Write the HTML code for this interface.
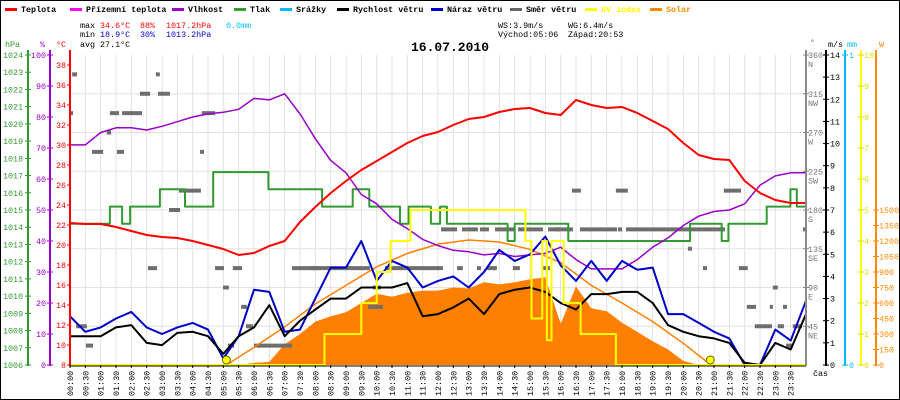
<!DOCTYPE html>
<html><head><meta charset="utf-8">
<style>
html,body{margin:0;padding:0;background:#fff;}
svg{display:block;font-family:"Liberation Mono",monospace;}
</style></head>
<body>
<svg id="chart" width="900" height="400" viewBox="0 0 900 400" xmlns="http://www.w3.org/2000/svg">
<rect x="0.5" y="0.5" width="899" height="399" fill="#fff" stroke="#000"/>
<g id="legend" font-size="8.4" font-weight="bold"></g>
<g font-size="8.4">
<text x="80" y="28" fill="#000">max</text><text x="100" y="28" fill="#f00">34.6°C</text><text x="140" y="28" fill="#f00">88%</text><text x="166" y="28" fill="#f00">1017.2hPa</text><text x="226" y="28" fill="#00bfff">0.0mm</text>
<text x="80" y="37" fill="#000">min</text><text x="100" y="37" fill="#00c">18.9°C</text><text x="140" y="37" fill="#00c">30%</text><text x="166" y="37" fill="#00c">1013.2hPa</text>
<text x="80" y="47" fill="#000">avg</text><text x="100" y="47" fill="#000">27.1°C</text>
<text x="498" y="28" fill="#000">WS:3.9m/s</text><text x="568" y="28" fill="#000">WG:6.4m/s</text>
<text x="498" y="37" fill="#000">Východ:05:06</text><text x="568" y="37" fill="#000">Západ:20:53</text>
</g>
<text x="450" y="51" text-anchor="middle" font-size="13" font-weight="bold">16.07.2010</text>
<g id="grid"></g>
<g id="marks"></g>
<g id="axes"></g>
</svg>
<script>
const times = [0,0.5,1,1.5,2,2.5,3,3.5,4,4.5,5,5.5,6,6.5,7,7.5,8,8.5,9,9.5,10,10.5,11,11.5,12,12.5,13,13.5,14,14.5,15,15.5,16,16.5,17,17.5,18,18.5,19,19.5,20,20.5,21,21.5,22,22.5,23,23.5,24];
const temperature = [22.2,22.1,22.1,21.8,21.4,21.0,20.8,20.7,20.4,20.0,19.6,19.0,19.2,19.9,20.4,22.3,23.8,25.2,26.4,27.5,28.4,29.3,30.2,30.9,31.3,32.0,32.6,32.8,33.3,33.6,33.7,33.2,33.0,34.5,34.0,33.7,33.8,33.2,32.4,31.6,30.2,29.0,28.6,28.5,26.4,25.2,24.5,24.2,24.2];
const humidity = [71,71,75,76.5,76.5,75.8,77,78.5,80,81,81.5,82.5,86,85.5,87.5,81,73,66,62,55,52,47,44,40.5,38.5,37,36.5,35.5,36,35,35.5,36,38,34,31,31,31,34,38,41,45,48,49.5,50,52,58,61,62,62];
const windSpeed = [1.3,1.3,1.3,1.7,1.8,1.0,0.9,1.45,1.5,1.3,0.5,1.3,1.7,2.7,1.3,2.0,2.5,3.0,3.0,3.5,3.5,3.5,3.7,2.2,2.3,2.6,3.0,2.3,3.2,3.4,3.5,3.3,2.8,2.5,3.2,3.2,3.3,3.3,2.8,1.8,1.5,1.3,1.2,1.0,0.1,0,1.0,0.7,2.3];
const windGust = [2.2,1.5,1.7,2.1,2.4,1.7,1.4,1.7,1.9,1.6,0.3,1.3,3.4,3.3,1.5,1.6,3.0,4.4,4.4,5.6,3.8,4.7,4.4,3.5,3.8,4.0,3.5,4.2,5.2,4.7,5.0,5.8,4.5,3.8,4.7,3.8,4.7,4.3,4.4,2.3,2.3,1.9,1.5,1.2,0,0,1.6,1.1,2.9];
const solar = [0,0,0,0,0,0,0,0,0,0,0,0,20,30,200,300,420,470,510,600,690,660,700,720,720,750,740,800,780,800,830,850,400,760,550,520,410,320,230,150,40,0,0,0,0,0,0,0,0];
const clearSkyTimes = [5.1,6,7,8,9,10,11,12,13,14,15,16,17,18,19,20,20.9];
const clearSkyValues = [0,170,370,590,770,950,1080,1170,1210,1190,1120,990,770,600,420,210,0];
const pressTimes = [0,1.3,1.7,1.96,2.93,3.75,4.67,6.47,8.22,9.22,9.76,10.76,11.04,11.77,12.07,12.29,14.27,14.5,16.25,20.22,21.25,21.47,22.72,23.49,23.7];
const pressValues = [1014.2,1015.2,1014.2,1015.2,1016.2,1015.2,1017.2,1016.2,1015.2,1016.2,1015.2,1014.2,1015.2,1014.2,1015.2,1014.2,1013.2,1014.2,1013.2,1014.2,1013.2,1014.2,1015.2,1016.2,1015.2];
const uvTimes = [0,8.3,9.5,10,10.45,11.1,14.85,15.05,15.4,15.55,15.7,16.1,16.65,17.8];
const uvValues = [0,1,2,3,4,5,4,1.5,4,0.8,4,2,1,0];
const dirStart = [0.07,2.8,2.28,2.87,0,1.3,1.7,4.3,1.2,0.72,1.53,4.24,3.55,3.23,2.54,4.73,5.31,7.24,4.99,5.58,0.2,5.74,0.52,5.15,6.0,7.83,10.27,12.62,13.27,13.6,14.44,15.42,12.1,12.78,13.37,13.86,14.61,15.59,15.81,16.63,17.87,18.13,23.9,9.88,9.72,16.37,17.8,21.32,20.15,20.64,21.81,22.92,22.07,22.82,23.25,22.33,23.08,23.57,23.35];
const dirEnd = [0.23,2.93,2.61,3.26,0.1,1.6,2.35,4.73,1.34,1.08,1.76,4.37,4.27,3.59,2.84,5.02,5.61,8.15,5.18,5.77,0.55,5.97,0.75,5.35,7.24,9.78,12.16,12.81,13.4,13.92,14.67,15.65,12.62,13.3,13.66,14.51,15.42,15.98,16.4,17.84,18.0,21.36,23.97,10.14,10.2,16.66,18.19,21.88,20.28,20.77,22.1,23.08,22.37,22.92,23.38,22.89,23.28,23.87,23.57];
const dirDeg = [337.5,337.5,315,315,292.5,292.5,292.5,292.5,270,247.5,247.5,247.5,202.5,180,112.5,112.5,112.5,112.5,90,67.5,45,45,22.5,22.5,22.5,112.5,112.5,112.5,112.5,112.5,112.5,112.5,157.5,157.5,157.5,157.5,157.5,157.5,157.5,157.5,157.5,157.5,157.5,90,67.5,202.5,202.5,202.5,135,112.5,112.5,90,67.5,67.5,67.5,45,45,45,22.5];
const sunEvents = [5.1,20.88];
const timeLabels = ["00:00","00:30","01:00","01:30","02:00","02:30","03:00","03:30","04:00","04:30","05:00","05:30","06:00","06:30","07:00","07:30","08:00","08:30","09:00","09:30","10:00","10:30","11:00","11:30","12:00","12:30","13:00","13:30","14:00","14:30","15:00","15:30","16:00","16:30","17:00","17:30","18:00","18:30","19:00","19:30","20:00","20:30","21:00","21:30","22:00","22:30","23:00","23:30"];
const pressTicks = [1006,1007,1008,1009,1010,1011,1012,1013,1014,1015,1016,1017,1018,1019,1020,1021,1022,1023,1024];
const humTicks = [0,10,20,30,40,50,60,70,80,90,100];
const tempTicks = [8,10,12,14,16,18,20,22,24,26,28,30,32,34,36,38];
const dirTicks = [45,90,135,180,225,270,315,360];
const dirNames = ["NE","E","SE","S","SW","W","NW","N"];
const windTicks = [0,1,2,3,4,5,6,7,8,9,10,11,12,13,14];
const uvTicks = [0,1,2,3,4,5,6,7,8,9,10];
const solarTicks = [0,150,300,450,600,750,900,1050,1200,1350,1500];
const legendNames = ["Teplota","Přízemní teplota","Vlhkost","Tlak","Srážky","Rychlost větru","Náraz větru","Směr větru","UV index","Solar"];
const legendColors = ["#f00","#f0f","#90c","#393","#0bf","#000","#00c","#666","#ff0","#f80"];
const legendX = [5,70,172,234,280,337,431,510,585,650];

const NS="http://www.w3.org/2000/svg";
const X0=70,X1=806,Y0=365,YT=55;
const xs=t=>X0+t*(X1-X0)/24;
const yT=v=>Y0-(v-8)*10;
const yH=v=>Y0-v*3.1;
const yP=v=>Y0-(v-1006)*(310/18);
const yW=v=>Y0-v*(310/14);
const yS=v=>Y0-v*(155/1500);
const yU=v=>Y0-v*31;
const yD=v=>Y0-v*(310/360);
function mk(tag,attrs,parent){const e=document.createElementNS(NS,tag);for(const k in attrs)e.setAttribute(k,attrs[k]);parent.appendChild(e);return e;}
const svg=document.getElementById('chart');
const grid=document.getElementById('grid'),marks=document.getElementById('marks'),axes=document.getElementById('axes'),legend=document.getElementById('legend');

// legend
legendNames.forEach((n,i)=>{
  const r=mk('rect',{x:legendX[i],y:8,width:12,height:3,fill:legendColors[i]},legend);
  
  
  const t=mk('text',{x:legendX[i]+16,y:12,fill:(i>=8?legendColors[i]:'#000')},legend);
  t.textContent=n;
  
  
});

// grid
for(let i=1;i<48;i++){const l=mk('line',{x1:xs(i*0.5),x2:xs(i*0.5),y1:YT,y2:Y0,stroke:'#e6e0e0'},grid);}
for(let j=1;j<8;j++){const y=Y0-j*310/8;mk('line',{x1:X0,x2:X1,y1:y,y2:y,stroke:'#e6e0e0'},grid);}

function poly(xsArr,ysArr,color,w,name){
  const pts=xsArr.map((x,i)=>x.toFixed(1)+','+ysArr[i].toFixed(1)).join(' ');
  const p=mk('polyline',{points:pts,fill:'none',stroke:color,'stroke-width':w,'stroke-linejoin':'round'},marks);
  
  
  return p;
}
function stepPts(tArr,vArr,yf){const X=[],Y=[];tArr.forEach((t,i)=>{if(i>0){X.push(xs(t));Y.push(yf(vArr[i-1]));}X.push(xs(t));Y.push(yf(vArr[i]));});X.push(xs(24));Y.push(yf(vArr[vArr.length-1]));return [X,Y];}

// solar fill
{const pts=[xs(0)+','+Y0].concat(times.map((t,i)=>xs(t).toFixed(1)+','+yS(solar[i]).toFixed(1))).concat([xs(24)+','+Y0]).join(' ');
const p=mk('polygon',{points:pts,fill:'#ff8000'},marks);

}
// wind direction
dirDeg.forEach((d,i)=>{
  const r=mk('rect',{x:xs(dirStart[i]),y:yD(d)-2,width:Math.max(3,xs(dirEnd[i])-xs(dirStart[i])),height:4,fill:'#6e6e6e'},marks);
  
  
});
poly(clearSkyTimes.map(xs),clearSkyValues.map(yS),'#ff8000',1.5,'clear-sky-solar-line');
{const [X,Y]=stepPts(pressTimes,pressValues,yP);poly(X,Y,'#393',2,'pressure-line');}
poly(times.map(xs),humidity.map(yH),'#90c',1.5,'humidity-line');
poly(times.map(xs),temperature.map(yT),'#f00',2,'temperature-line');
poly(times.map(xs),windGust.map(yW),'#00c',2,'wind-gust-line');
poly(times.map(xs),windSpeed.map(yW),'#000',2,'wind-speed-line');
{const [X,Y]=stepPts(uvTimes,uvValues,yU);poly(X,Y,'#ff0',2,'uv-index-line');}
sunEvents.forEach((t,i)=>{
  const c=mk('circle',{cx:xs(t),cy:Y0-5,r:4,fill:'#ff0',stroke:'#660','stroke-width':1},marks);
  
  
});

// axes
function vline(x,color,name){const l=mk('line',{x1:x,x2:x,y1:50,y2:Y0+1,stroke:color,'stroke-width':2},axes);}
function label(x,y,txt,color,anchor,name){const t=mk('text',{x:x,y:y,fill:color,'font-size':8.4,'text-anchor':anchor||'start'},axes);t.textContent=txt;return t;}
function tick(x1,x2,y,color){mk('line',{x1:x1,x2:x2,y1:y,y2:y,stroke:color},axes);}
vline(28,'#393','pressure-axis');vline(50,'#90c','humidity-axis');vline(70,'#f00','temperature-axis');
label(5,47,'hPa','#393','start','pressure-axis-title');label(40,47,'%','#90c','start','humidity-axis-title');label(56,47,'°C','#f00','start','temperature-axis-title');
pressTicks.forEach(v=>{tick(25,31,yP(v),'#393');label(3,yP(v)+3,String(v),'#393','start','pressure-tick-label');});
humTicks.forEach(v=>{tick(47,53,yH(v),'#90c');label(46,yH(v)+3,String(v),'#90c','end','humidity-tick-label');});
tempTicks.forEach(v=>{tick(67,70,yT(v),'#f00');label(66,yT(v)+3,String(v),'#f00','end','temperature-tick-label');});
// x axis
{const l=mk('line',{x1:X0,x2:X1,y1:Y0+1,y2:Y0+1,stroke:'#000','stroke-width':1},axes);}
timeLabels.forEach((s,i)=>{const x=xs(i*0.5);tick(0,0,0,'#000');mk('line',{x1:x,x2:x,y1:Y0,y2:Y0+3,stroke:'#000'},axes);
  const t=mk('text',{x:0,y:0,'font-size':8.4,fill:'#000',transform:`translate(${x+3},396) rotate(-90)`},axes);t.textContent=s;
  
  });
label(813,376,'čas','#000','start','x-axis-title');
// right axes
vline(806,'#888','wind-direction-axis');vline(826,'#000','wind-speed-axis');vline(845,'#0bf','rain-axis');vline(861,'#ff0','uv-axis');vline(876,'#f80','solar-axis');
label(810,45,'°','#666','start','wind-direction-axis-title');label(828,47,'m/s','#000','start','wind-speed-axis-title');label(847,47,'mm','#0bf','start','rain-axis-title');label(879,47,'W','#f80','start','solar-axis-title');
dirTicks.forEach((v,i)=>{tick(803,809,yD(v),'#888');label(808,yD(v)+3,String(v),'#777','start','direction-tick-label');label(808,yD(v)+12,dirNames[i],'#777','start','direction-name-label');});
windTicks.forEach(v=>{tick(823,829,yW(v),'#000');label(830,yW(v)+3,String(v),'#000','start','wind-tick-label');});
[0,1].forEach(v=>{tick(842,848,Y0-v*310,'#0bf');label(849,Y0-v*310+3,String(v),'#0bf','start','rain-tick-label');});
uvTicks.forEach(v=>{tick(858,864,yU(v),'#dd0');label(864,yU(v)+3,String(v),'#dd0','start','uv-tick-label');});
solarTicks.forEach(v=>{tick(873,879,yS(v),'#f80');label(879,yS(v)+3,String(v),'#f80','start','solar-tick-label');});
</script>
</body></html>
